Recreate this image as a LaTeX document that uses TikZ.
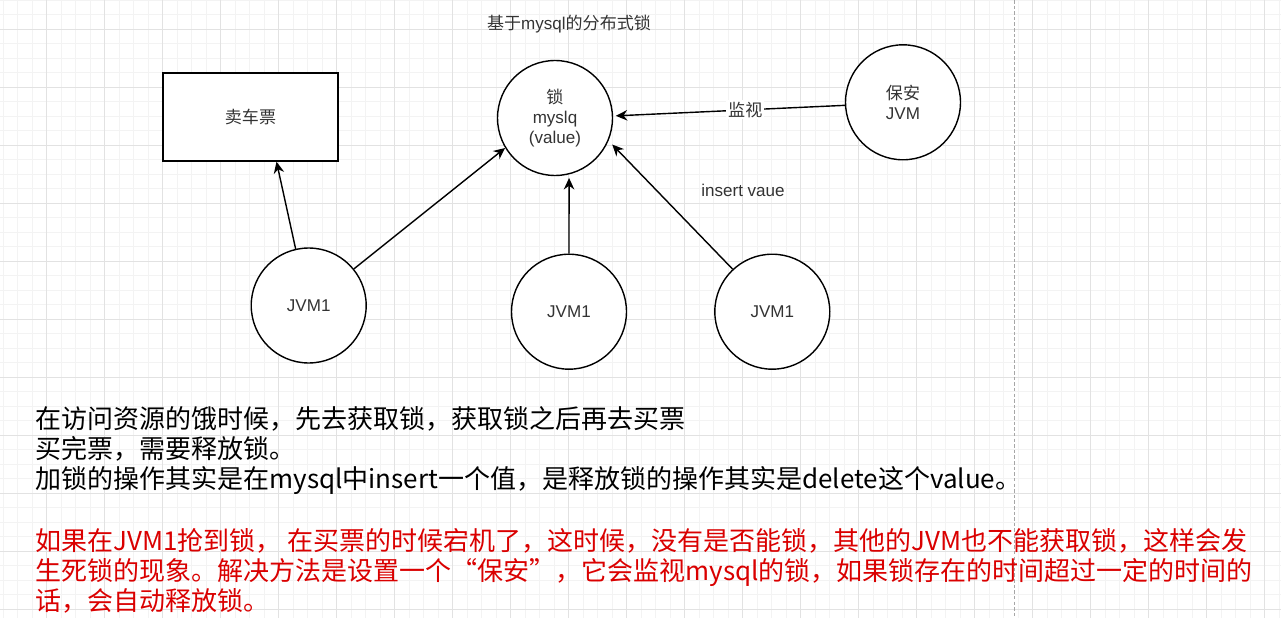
\documentclass[tikz,border=0pt]{standalone}
\usepackage{fontspec}
\setmainfont{Noto Sans CJK SC}
\newfontfamily\latinfont{Liberation Sans}
\usepackage{xcolor}
\usepackage{tikz}
\usetikzlibrary{positioning}
\usetikzlibrary{arrows.meta}
\definecolor{gridminor}{RGB}{243,243,243}
\definecolor{gridmajor}{RGB}{226,226,226}
\definecolor{nodetext}{RGB}{51,51,51}
\definecolor{warnred}{RGB}{218,0,0}
\tikzset{
  jvmnode/.style={%
    draw,
    circle,
    line width=0.8pt,
    fill=white,
    minimum size=2.3cm,
    inner sep=0,
    text=nodetext,
    align=center,
    font=\fontsize{9.7pt}{11.4pt}\selectfont,
  },
  boxnode/.style={%
    draw,
    rectangle,
    line width=0.8pt,
    fill=white,
    minimum width=3.5cm,
    minimum height=1.76cm,
    text=nodetext,
    font=\fontsize{9.7pt}{11.4pt}\selectfont,
  },
  plaintext/.style={%
    text=nodetext,
    inner sep=1pt,
    font=\fontsize{9.7pt}{11.4pt}\selectfont,
  },
  arrowline/.style={%
    -{Stealth[length=2.3mm,width=2.1mm]},
    line width=0.8pt,
  },
  notetext/.style={%
    anchor=north west,
    align=left,
    inner sep=0,
    font=\fontsize{14.8pt}{17.1pt}\selectfont,
  }
}

\begin{document}
\begin{tikzpicture}[x=0.02cm,y=-0.02cm]
  \useasboundingbox[fill=white] (0,0) rectangle (1281,618);
  % grid
  \foreach \i in {-1,...,89}
    \draw[gridminor,line width=0.5pt] ({3.2+14.5*\i},0) -- ({3.2+14.5*\i},618);
  \foreach \i in {0,...,42}
    \draw[gridminor,line width=0.5pt] (0,{0.3+14.5*\i}) -- (1281,{0.3+14.5*\i});
  \foreach \k in {-1,...,22}
    \draw[gridmajor,line width=0.5pt] ({46.7+58*\k},0) -- ({46.7+58*\k},618);
  \foreach \k in {0,...,10}
    \draw[gridmajor,line width=0.5pt] (0,{29.3+58*\k}) -- (1281,{29.3+58*\k});
  \draw[gray!70,line width=0.5pt,dash pattern=on 2pt off 1.2pt] (1014.3,0) -- (1014.3,618);

  \node (title) [plaintext] at (569,24) {基于{\latinfont mysql}的分布式锁};
  \node (sell) [boxnode] at (250.5,117) {卖车票};
  \node (lock) [jvmnode] at (555,118) {锁\\{\latinfont myslq}\\{\latinfont (value)}};
  \node (guard) [jvmnode] at (903,102.3) {保安\\{\latinfont JVM}};
  \node (jvma) [jvmnode] at (308.7,305.5) {\latinfont JVM1};
  \node (jvmb) [jvmnode] at (569,311.7) {\latinfont JVM1};
  \node (jvmc) [jvmnode] at (772.3,311.7) {\latinfont JVM1};
  \node (insert) [plaintext] at (743,190.5) {\latinfont insert vaue};

  \draw [arrowline] (jvma.103) -- ([xshift=0.52cm]sell.south);
  \draw [arrowline] (jvma.39) -- (lock.211);
  \draw [arrowline] (jvmb.north) -- ([yshift=-0.07cm]lock.284);
  \draw [arrowline,shorten >=3pt] (jvmc.133) -- (lock.337);
  \draw [arrowline,shorten >=1.5pt] (guard.183) -- (lock.2)
    node (watch) [plaintext,fill=white,pos=0.43] {监视};

  \node (notes) [notetext] at (35,406.5)
    {在访问资源的饿时候，先去获取锁，获取锁之后再去买票\\
     买完票，需要释放锁。\\
     加锁的操作其实是在mysql中insert一个值，是释放锁的操作其实是delete这个value。};
  \node (warning) [notetext,text=warnred] at (35,528)
    {如果在JVM1抢到锁， 在买票的时候宕机了，这时候，没有是否能锁，其他的JVM也不能获取锁，这样会发\\
     生死锁的现象。解决方法是设置一个“保安”，它会监视mysql的锁，如果锁存在的时间超过一定的时间的\\
     话，会自动释放锁。};
\end{tikzpicture}
\end{document}
